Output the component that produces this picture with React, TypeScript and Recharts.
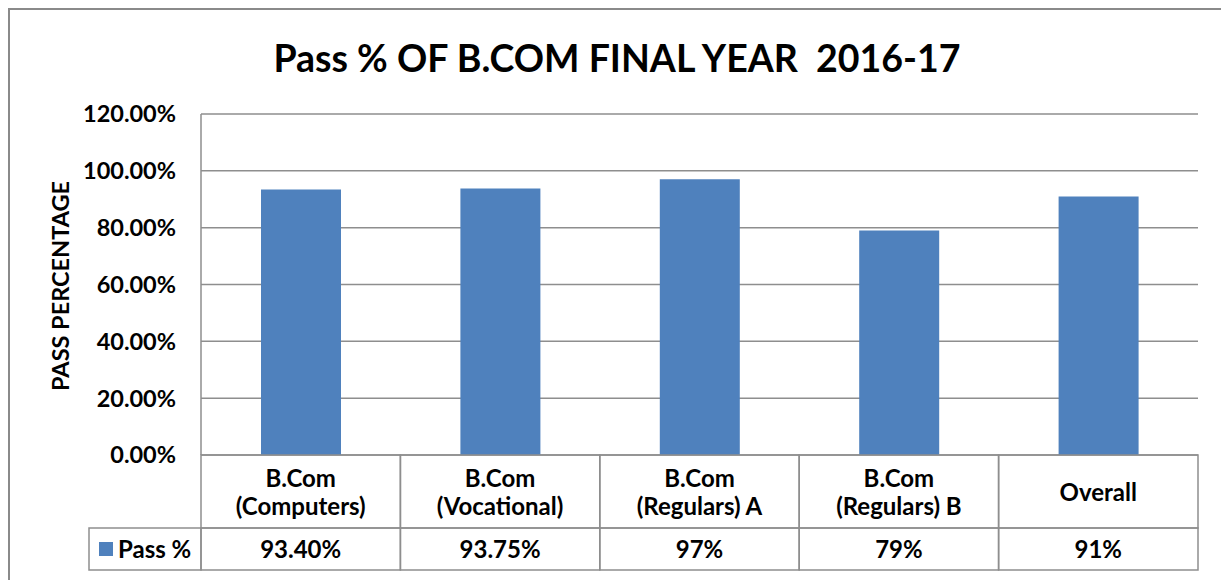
import React from 'react';
import { BarChart, Bar, XAxis, YAxis, CartesianGrid } from 'recharts';

// Pass % per course, final year 2016-17
const categories = [
  'B.Com\n(Computers)',
  'B.Com\n(Vocational)',
  'B.Com\n(Regulars) A',
  'B.Com\n(Regulars) B',
  'Overall',
];
const passValues = [0.934, 0.9375, 0.97, 0.79, 0.91];
const passLabels = ['93.40%', '93.75%', '97%', '79%', '91%'];
const yTicks = [0, 0.2, 0.4, 0.6, 0.8, 1.0, 1.2];

const data = categories.map((name, i) => ({ name, pass: passValues[i], label: passLabels[i] }));

const W = 1211;
const H = 562;
const MARGIN = { top: 104, right: 23, bottom: 2, left: 81 };
const Y_AXIS_W = 110;
const BAND = (W - MARGIN.left - MARGIN.right - Y_AXIS_W) / categories.length;
const ROW1 = 73;
const ROW2 = 42;
const GRID = '#8e8e8e';
const BLUE = '#4F81BD';
const FONT = 'Lato, "Open Sans", sans-serif';

const TableTick = (props: any) => {
  const { x, y, payload, index } = props;
  const left = x - BAND / 2;
  const lines = String(payload.value).split('\n');
  const mid = y + ROW1 / 2;
  return (
    <g fontFamily={FONT} fontWeight={700} fontSize={24} fill="#000">
      <rect x={left} y={y} width={BAND} height={ROW1} fill="none" stroke={GRID} strokeWidth={1.5} />
      <rect x={left} y={y + ROW1} width={BAND} height={ROW2} fill="none" stroke={GRID} strokeWidth={1.5} />
      {lines.map((ln, i) => (
        <text
          key={i}
          x={x}
          y={mid + (i - (lines.length - 1) / 2) * 28 + 9}
          textAnchor="middle"
        >
          {ln}
        </text>
      ))}
      <text x={x} y={y + ROW1 + ROW2 / 2 + 8.5} textAnchor="middle">
        {data[index].label}
      </text>
      {index === 0 && (
        <g>
          <rect x={79} y={y + ROW1} width={left - 79} height={ROW2} fill="none" stroke={GRID} strokeWidth={1.5} />
          <rect x={89} y={y + ROW1 + 14} width={14} height={14} fill={BLUE} />
          <text x={108} y={y + ROW1 + ROW2 / 2 + 8.5} textAnchor="start">
            Pass %
          </text>
        </g>
      )}
    </g>
  );
};

export default function App() {
  return (
    <div
      style={{
        position: 'fixed',
        left: 8,
        top: 8,
        width: 1213,
        height: 575,
        borderLeft: '2px solid #8a8a8a',
        borderTop: '2px solid #8a8a8a',
        background: '#fff',
      }}
    >
      <div
        style={{
          position: 'absolute',
          left: 0,
          top: 25,
          width: 1214,
          textAlign: 'center',
          fontFamily: FONT,
          fontWeight: 700,
          fontSize: 37.5,
          color: '#000',
          whiteSpace: 'pre',
        }}
      >
        {'Pass % OF B.COM FINAL YEAR  2016-17'}
      </div>
      <div
        style={{
          position: 'absolute',
          left: 50,
          top: 276,
          transform: 'translate(-50%, -50%) rotate(-90deg)',
          fontFamily: FONT,
          fontWeight: 700,
          fontSize: 23.5,
          whiteSpace: 'nowrap',
          color: '#000',
        }}
      >
        PASS PERCENTAGE
      </div>
      <BarChart width={W} height={H} data={data} margin={MARGIN} barSize={80}>
        <CartesianGrid vertical={false} stroke={GRID} strokeWidth={1.5} />
        <XAxis
          dataKey="name"
          height={115}
          axisLine={false}
          tickLine={false}
          tickSize={0}
          tickMargin={0}
          interval={0}
          tick={<TableTick />}
        />
        <YAxis
          width={Y_AXIS_W}
          domain={[0, 1.2]}
          ticks={yTicks}
          interval={0}
          axisLine={{ stroke: GRID, strokeWidth: 1.5 }}
          tickLine={false}
          tickSize={0}
          tickMargin={25}
          tickFormatter={(v: number) => `${(v * 100).toFixed(2)}%`}
          tick={{ fill: '#000', fontFamily: FONT, fontWeight: 700, fontSize: 23.5 }}
        />
        <Bar dataKey="pass" fill={BLUE} isAnimationActive={false} />
      </BarChart>
    </div>
  );
}
